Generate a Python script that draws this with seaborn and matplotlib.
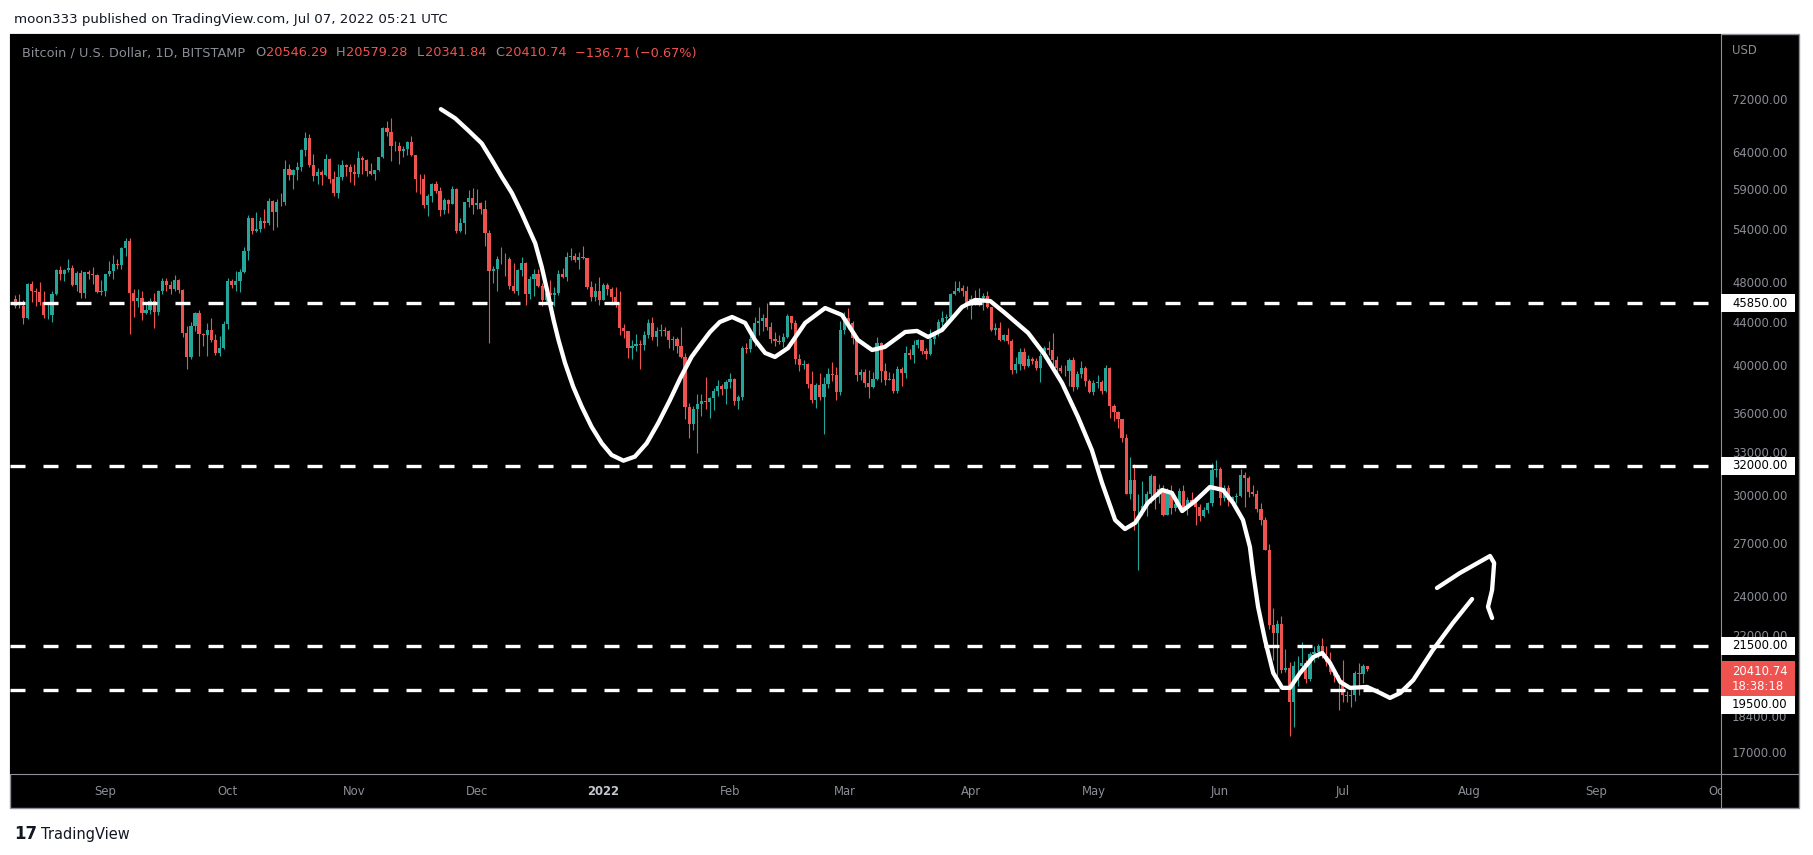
import numpy as np
import pandas as pd
import matplotlib
matplotlib.use("Agg")
import matplotlib.pyplot as plt
import matplotlib.dates as mdates
from matplotlib.patches import Rectangle
from matplotlib.lines import Line2D
import seaborn as sns

W, H = 1813, 855

# ---- data: BTC/USD daily candles, Bitstamp, 10 Aug 2021 -> 7 Jul 2022 ----
first_day = "2021-08-10"
first_open = 46280

closes = [
    # Aug 2021 (from 10th)
    45580, 45560, 44420, 47830, 47090, 47020, 45940, 44690, 44710, 46760, 49340,
    48900, 49320, 49540, 47710, 48990, 46850, 49070, 48900, 48810, 46990, 47130,
    # Sep
    48850, 49280, 50030, 49940, 51770, 52660, 46860, 46070, 46370, 44850, 45140,
    46060, 44960, 47090, 48150, 47750, 47300, 48300, 47250, 42900, 40700, 43570,
    44890, 42840, 42720, 43210, 42240, 41030, 41520, 43790,
    # Oct
    48140, 47710, 48200, 49110, 51510, 55360, 53810, 53960, 54960, 54690, 57480,
    56040, 57400, 57370, 61670, 60880, 61530, 62010, 64280, 66000, 62210, 60690,
    61290, 60860, 63080, 60330, 58460, 60620, 62230, 61890, 61320,
    # Nov
    61000, 63220, 62950, 61450, 61000, 61530, 63300, 67570, 66970, 64880, 64950,
    64160, 64400, 65500, 63600, 60370, 60360, 56940, 58100, 59730, 58730, 56290,
    57570, 57150, 58960, 53740, 54740, 57290, 57810, 56950,
    # Dec
    57190, 56500, 53600, 49200, 49400, 50580, 50600, 50500, 47670, 47150, 49390,
    50100, 46740, 48380, 48880, 47660, 46200, 46850, 46700, 46880, 48940, 48620,
    50820, 50850, 50430, 50800, 50700, 47550, 46470, 47130, 46200,
    # Jan 2022
    47720, 47300, 46450, 45830, 43420, 43080, 41550, 41680, 41860, 41820, 42740,
    43920, 42590, 43100, 43180, 43110, 42250, 42380, 41690, 40680, 36470, 35070,
    36280, 36680, 36960, 36820, 37160, 37720, 38170, 37920, 38480,
    # Feb
    38740, 36950, 37300, 41560, 41400, 42400, 43850, 44080, 44370, 43540, 42390,
    42210, 42080, 42530, 44570, 43880, 40530, 39970, 40120, 38380, 37030, 38270,
    37260, 38340, 39210, 39110, 37700, 43190,
    # Mar
    44420, 43920, 42460, 39150, 39400, 38420, 38060, 38740, 41980, 39440, 38730,
    38810, 37790, 39670, 39280, 41110, 40920, 41760, 42230, 41260, 41000, 42360,
    42890, 43960, 44350, 44500, 46820, 47130, 47450, 47060, 45530,
    # Apr
    46280, 45860, 46420, 46600, 45500, 43170, 43440, 42250, 42750, 42150, 39530,
    40080, 41150, 39940, 40550, 40390, 39700, 40800, 41500, 41370, 40480, 39710,
    39470, 39450, 40430, 38110, 39240, 39740, 38590, 37640,
    # May
    38470, 38520, 37730, 39690, 36550, 36010, 35470, 34040, 30080, 31020, 28940,
    28990, 29280, 30100, 31300, 29860, 30420, 28700, 30300, 29180, 29430, 30300,
    29100, 29650, 29540, 29200, 28630, 29030, 29470, 31730, 31790,
    # Jun
    29800, 30450, 29700, 29860, 29910, 31370, 31130, 30200, 30100, 29090, 28400,
    26580, 22490, 22140, 22580, 20380, 20470, 19000, 20570, 20570, 20720, 19970,
    21100, 21230, 21500, 21040, 20740, 20280, 20100, 19930,
    # Jul
    19300, 19250, 19300, 20230, 20190, 20546.29, 20410.74,
]

highs = [
    46700, 46750, 46200, 47900, 48150, 47370, 48000, 47130, 46000, 47050, 49400,
    49760, 49500, 50500, 49850, 49250, 49350, 49170, 49300, 49650, 48900, 48250,
    48950, 50350, 51000, 50550, 51900, 52920, 52900, 47350, 47350, 47050, 45950,
    46400, 46850, 47250, 48450, 48450, 48150, 48800, 48350, 47350, 43600, 44000,
    44950, 45150, 42950, 43900, 44350, 42800, 42600, 44100,
    48450, 48350, 49250, 49500, 51890, 55750, 55400, 56100, 55450, 56500, 57800,
    57600, 57700, 58550, 62900, 62300, 61700, 62650, 64450, 67000, 66650, 63700,
    61750, 61500, 63700, 63250, 61450, 62400, 62950, 62300, 62400,
    62400, 64250, 63500, 63100, 62550, 61600, 63300, 67750, 68550, 69000, 65550,
    65450, 64950, 65550, 66300, 63600, 61000, 60950, 58400, 59850, 60000, 59250,
    57850, 57750, 59350, 59100, 55300, 57400, 58850, 59200,
    59050, 57400, 57600, 53850, 49750, 50900, 51950, 51200, 50800, 50100, 49450,
    50800, 50200, 48700, 49500, 49450, 47980, 47350, 48300, 47550, 49300, 49550,
    51350, 51800, 51200, 51300, 52050, 50700, 48100, 47900, 48550,
    47900, 47950, 47550, 47500, 47050, 43750, 43150, 42300, 42800, 42250, 43100,
    44300, 44450, 43450, 43750, 43500, 43200, 42650, 42550, 43500, 41100, 36800,
    36550, 37500, 37550, 38950, 37250, 38000, 38700, 38350, 38700,
    39250, 38850, 37400, 41750, 41950, 42650, 44500, 45500, 44800, 45850, 43950,
    43050, 42750, 42900, 44750, 44600, 44200, 40950, 40450, 40150, 39500, 38400,
    39250, 38950, 39700, 40250, 39850, 44100,
    44950, 45400, 44100, 42500, 39650, 39650, 39550, 39400, 42550, 42050, 40200,
    39350, 39300, 39900, 39850, 41700, 41450, 42300, 42400, 42300, 41550, 43350,
    43000, 44250, 45100, 44800, 46900, 48200, 48100, 47700, 47600,
    46700, 47200, 47450, 46850, 47150, 45500, 43900, 43950, 42800, 43400, 42400,
    40700, 41550, 41500, 40850, 40700, 40600, 41100, 41750, 42200, 42950, 40800,
    39950, 39950, 40600, 40750, 39450, 40350, 39900, 38800,
    38650, 39150, 38650, 40000, 39800, 36650, 36100, 35500, 34300, 32650, 32150,
    30100, 30950, 30300, 31450, 31300, 30750, 30650, 30500, 30700, 29600, 30450,
    30650, 29850, 30200, 29850, 29400, 29200, 29550, 32200, 32400,
    31950, 30650, 30650, 29950, 30150, 31750, 31550, 31300, 30650, 30350, 29450,
    28550, 26900, 23350, 22750, 22980, 21350, 20750, 20800, 21000, 21700, 20850,
    21200, 21500, 21600, 21850, 21500, 21200, 20400, 20150,
    20850, 19450, 19650, 20350, 20700, 20650, 20579.28,
]

lows = [
    45350, 45350, 43800, 44230, 45950, 45560, 45700, 44400, 44250, 43950, 46700,
    48300, 48100, 49100, 47600, 47150, 46330, 46400, 48400, 47800, 46900, 46700,
    46600, 48650, 48400, 49500, 49500, 50900, 42800, 44500, 45500, 44150, 44750,
    44750, 43400, 44700, 46750, 47050, 46800, 47100, 46850, 42550, 39600, 40550,
    43100, 40800, 41700, 40800, 42100, 40900, 40800, 41450,
    43300, 47450, 47150, 46950, 49000, 50400, 53400, 53650, 53700, 54100, 54450,
    53900, 54300, 56850, 56900, 60150, 58950, 60200, 61400, 63500, 62000, 60000,
    59700, 59550, 60700, 59850, 58100, 57850, 60200, 60750, 59950,
    59500, 60650, 60950, 60700, 60800, 60150, 61350, 63200, 66300, 62800, 64150,
    62300, 63350, 63650, 63500, 58600, 58400, 56600, 55600, 57400, 58500, 55650,
    55850, 55950, 57050, 53600, 53650, 53400, 56750, 55900,
    56500, 55850, 52000, 42000, 47900, 47100, 50050, 48700, 47350, 46900, 46700,
    48650, 45700, 46300, 46600, 47550, 45550, 45950, 46450, 45600, 46650, 48450,
    48100, 50450, 50200, 49500, 50500, 47350, 46100, 46050, 45700,
    46150, 46700, 45700, 45500, 42700, 42450, 40650, 40500, 41250, 39650, 41300,
    42450, 42300, 41750, 42600, 42650, 41550, 41300, 41100, 40600, 35500, 34000,
    34650, 32950, 35700, 36250, 35550, 36200, 37350, 37400, 36650,
    38050, 36600, 36250, 37050, 41050, 41150, 41700, 42750, 43150, 43200, 42000,
    41750, 41900, 41600, 42450, 43300, 40100, 39500, 39650, 38050, 36800, 36400,
    37050, 34350, 38050, 38600, 37050, 37450,
    42800, 43350, 41850, 38600, 38650, 38100, 37200, 38000, 38650, 38550, 38250,
    38700, 37600, 37600, 38150, 38900, 40550, 40200, 41500, 40950, 40500, 40900,
    41850, 42600, 43600, 44100, 44400, 46650, 46950, 46550, 45250,
    44250, 45650, 45550, 45150, 45400, 43100, 42750, 42150, 42150, 41900, 39200,
    39250, 39550, 39600, 39800, 40050, 39550, 38550, 40600, 40900, 39800, 39200,
    39300, 39000, 38200, 37750, 37900, 38900, 38200, 37600,
    37400, 38050, 37550, 37700, 35600, 35300, 34800, 33750, 30050, 29750, 27750,
    25400, 28700, 28650, 29500, 29100, 29450, 28650, 28700, 28750, 28950, 29450,
    28900, 28700, 29350, 28050, 28300, 28550, 28850, 29300, 31250,
    29350, 29600, 29300, 29500, 29500, 29900, 29250, 29900, 29950, 28900, 28100,
    26550, 22300, 20850, 20100, 20250, 20300, 17600, 17950, 19650, 20350, 19800,
    19900, 20750, 20950, 20950, 20550, 20200, 19850, 18650,
    19000, 18980, 18780, 19050, 19300, 19800, 20341.84,
]

levels = [45850, 32000, 21500, 19500]
price_ticks = [72000, 64000, 59000, 54000, 48000, 44000, 40000, 36000, 33000,
               30000, 27000, 24000, 22000, 18400, 17000]
month_starts = ["2021-09-01", "2021-10-01", "2021-11-01", "2021-12-01",
                "2022-01-01", "2022-02-01", "2022-03-01", "2022-04-01",
                "2022-05-01", "2022-06-01", "2022-07-01", "2022-08-01",
                "2022-09-01", "2022-10-01"]
month_labels = ["Sep", "Oct", "Nov", "Dec", "2022", "Feb", "Mar", "Apr",
                "May", "Jun", "Jul", "Aug", "Sep", "Oct"]

# hand-drawn white curve: (days after first candle, price)
curve_days = [104.2, 107.7, 110.8, 114.2, 116.7, 119.1, 121.6, 124.0, 125.5,
              127.3, 128.9, 130.2, 131.8, 133.0, 134.6, 136.6, 138.7, 141.1,
              143.6, 146.0, 148.9, 151.7, 154.6, 157.4, 160.3, 162.8, 165.6,
              167.7, 170.1, 172.5, 175.5, 178.7, 181.1, 183.6, 186.0, 189.2,
              193.4, 198.3, 202.4, 206.3, 209.8, 212.9, 217.9, 220.8, 223.5,
              226.9, 231.8, 235.0, 238.7, 242.3, 248.0, 252.1, 256.3, 260.2,
              263.6, 266.1, 269.3, 271.7, 274.2, 277.3, 280.8, 283.2, 285.7,
              288.9, 292.5, 295.7, 298.2, 300.6, 302.3, 303.1, 304.3, 306.0,
              308.0, 310.2, 312.1, 314.6, 317.8, 320.0, 321.9, 324.4, 326.8,
              331.0, 334.2, 336.6, 339.1, 342.3, 347.1, 352.0, 356.7]
curve_prices = [70400, 68990, 67230, 65280, 62920, 60640, 58490, 55930, 54260,
                52340, 49670, 47200, 44170, 42270, 40170, 38120, 36470, 34890,
                33640, 32780, 32370, 32660, 33640, 35160, 37020, 38830, 40730,
                41800, 43020, 43980, 44470, 43890, 42270, 41070, 40710, 41520,
                43890, 45360, 44670, 42270, 41340, 41620, 43020, 43120, 42550,
                43210, 45460, 46170, 46070, 44870, 42930, 40890, 38430, 35650,
                33140, 30810, 28390, 27830, 28210, 29480, 30340, 30140, 28960,
                29610, 30540, 30340, 29480, 28390, 26750, 25250, 23430, 21780,
                20250, 19590, 19590, 20250, 20970, 21160, 20700, 19850, 19590,
                19630, 19370, 19160, 19370, 19930, 21300, 22610, 23840]
arrow_days = [348.1, 353.7, 361.1, 362.1, 361.6, 360.6, 361.6]
arrow_prices = [24430, 25250, 26220, 25820, 24320, 23430, 22860]

assert len(closes) == len(highs) == len(lows) == 332
assert len(curve_days) == len(curve_prices)

UP, DOWN = "#26a69a", "#ef5350"
GREY = "#8b8e96"
FRAME = "#8d9099"

sns.set_theme(style="dark", rc={"axes.facecolor": "black",
                                "figure.facecolor": "white",
                                "axes.grid": False})
plt.rcParams["font.family"] = ["DejaVu Sans"]

fig = plt.figure(figsize=(W / 100, H / 100), dpi=100)
renderer = fig.canvas.get_renderer()


def fx(px):
    return px / W


def fy(py):
    return 1 - py / H


# black frame behind everything
fig.patches.append(Rectangle((fx(10), fy(808)), (1799 - 10) / W, (808 - 34) / H,
                             transform=fig.transFigure, facecolor="black",
                             edgecolor=FRAME, lw=1.0, zorder=-5))

ax = fig.add_axes([fx(10), fy(774), (1721 - 10) / W, (774 - 34) / H])
ax.set_facecolor("black")
for s in ax.spines.values():
    s.set_visible(False)

# candles
dates = pd.date_range(first_day, periods=len(closes), freq="D")
x = mdates.date2num(dates)
c = np.array(closes, dtype=float)
o = np.concatenate([[first_open], c[:-1]])  # daily bar opens at prior close
hi = np.array(highs, dtype=float)
lo = np.array(lows, dtype=float)
up = c >= o
col = np.where(up, UP, DOWN)

ax.vlines(x, lo, hi, colors=col, lw=0.8, zorder=2)
ax.bar(x, np.abs(c - o), bottom=np.minimum(o, c), width=0.78, color=col,
       linewidth=0, zorder=2.5)

x0 = mdates.date2num(pd.Timestamp(first_day))
ax.set_yscale("log")
ax.set_ylim(16194, 83125)
ax.set_xlim(x0 - 1.3, x0 + 417.65)

# support / resistance lines
for lv in levels:
    ax.axhline(lv, color="white", lw=2.4, dashes=(4.5, 5.4), zorder=3)

# hand-drawn curve and arrow
for dd, pp in [(curve_days, curve_prices), (arrow_days, arrow_prices)]:
    sns.lineplot(x=x0 + np.array(dd), y=pp, sort=False, estimator=None,
                 color="white", lw=3.1, ax=ax, zorder=4,
                 solid_capstyle="round", solid_joinstyle="round")
ax.set_xlabel("")
ax.set_ylabel("")

# price scale on the right
ax.yaxis.tick_right()
ax.set_yticks(price_ticks)
ax.set_yticklabels([f"{v:.2f}" for v in price_ticks])
ax.yaxis.set_minor_locator(matplotlib.ticker.NullLocator())
ax.tick_params(axis="y", length=0, pad=8, labelcolor=GREY, labelsize=8.4)
ax.set_xticks([])
ax.tick_params(axis="x", length=0)

# time scale strip
tax = fig.add_axes([fx(10), fy(808), (1721 - 10) / W, (808 - 774) / H], sharex=ax)
tax.set_ylim(0, 1)
tax.set_axis_off()
for d, lab in zip(month_starts, month_labels):
    bold = lab == "2022"
    t = tax.text(mdates.date2num(pd.Timestamp(d)), 0.5, lab, ha="center",
                 va="center", fontsize=8.4,
                 color="#c3c6ce" if bold else GREY,
                 fontweight="bold" if bold else "normal")
    t.set_clip_box(tax.bbox)
    t.set_clip_on(True)

# divider lines
fig.add_artist(Line2D([fx(1721), fx(1721)], [fy(34), fy(808)], color=FRAME,
                      lw=0.8, transform=fig.transFigure, zorder=5))
fig.add_artist(Line2D([fx(10), fx(1799)], [fy(774), fy(774)], color=FRAME,
                      lw=0.8, transform=fig.transFigure, zorder=5))

fig.text(fx(1732), fy(50), "USD", color=GREY, fontsize=8.4, va="center")


def price_py(p):
    # pixel row (from top) of a price
    return H - ax.transData.transform((x0, p))[1]


# level label boxes
box_shift = {19500: 15}
for lv in levels:
    yc = price_py(lv) + box_shift.get(lv, 0)
    fig.patches.append(Rectangle((fx(1721), fy(yc + 9)), 74 / W, 18 / H,
                                 transform=fig.transFigure, facecolor="white",
                                 edgecolor="none", zorder=6))
    fig.text(fx(1732), fy(yc), f"{lv:.2f}", color="black", fontsize=8.4,
             va="center", zorder=7)

# last price box
yp = price_py(closes[-1])
fig.patches.append(Rectangle((fx(1721), fy(yp + 27)), 74 / W, 35 / H,
                             transform=fig.transFigure, facecolor=DOWN,
                             edgecolor="none", zorder=6))
fig.text(fx(1732), fy(yp + 2), f"{closes[-1]:.2f}", color="white",
         fontsize=8.4, va="center", zorder=7)
fig.text(fx(1732), fy(yp + 17), "18:38:18", color="white", fontsize=8.4,
         va="center", zorder=7)


def width_px(txt, size, **kw):
    t = fig.text(0, 0, txt, fontsize=size, **kw)
    w = t.get_window_extent(renderer).width
    t.remove()
    return w


# header above the chart
header = "moon333 published on TradingView.com, Jul 07, 2022 05:21 UTC"
hs = 10 * 431 / width_px(header, 10)
fig.text(fx(14), fy(20), header, color="#131722", fontsize=hs, va="center")

# legend line inside the chart
pieces = [("Bitcoin / U.S. Dollar, 1D, BITSTAMP", "#8a8d95", 0.75),
          ("O", "#8a8d95", 0.05), (f"{o[-1]:.2f}", DOWN, 0.7),
          ("H", "#8a8d95", 0.05), (f"{highs[-1]:.2f}", DOWN, 0.7),
          ("L", "#8a8d95", 0.05), (f"{lows[-1]:.2f}", DOWN, 0.7),
          ("C", "#8a8d95", 0.05), (f"{closes[-1]:.2f}", DOWN, 0.7),
          ("\u2212136.71 (\u22120.67%)", DOWN, 0.0)]
base = 10
tot = sum(width_px(p, base) + g * base * 100 / 72 for p, _, g in pieces)
ls = base * (695 - 22) / tot
cur = 22
for p, cl, g in pieces:
    fig.text(fx(cur), fy(53), p, color=cl, fontsize=ls, va="center")
    cur += width_px(p, ls) + g * ls * 100 / 72

# footer logo
fig.text(fx(14), fy(834), "17", color="#131722", fontsize=12,
         fontweight="bold", va="center")
fs = 10 * 89 / width_px("TradingView", 10)
fig.text(fx(41), fy(834), "TradingView", color="#131722", fontsize=fs,
         va="center")

fig.savefig("out.png", dpi=100, facecolor="white")
